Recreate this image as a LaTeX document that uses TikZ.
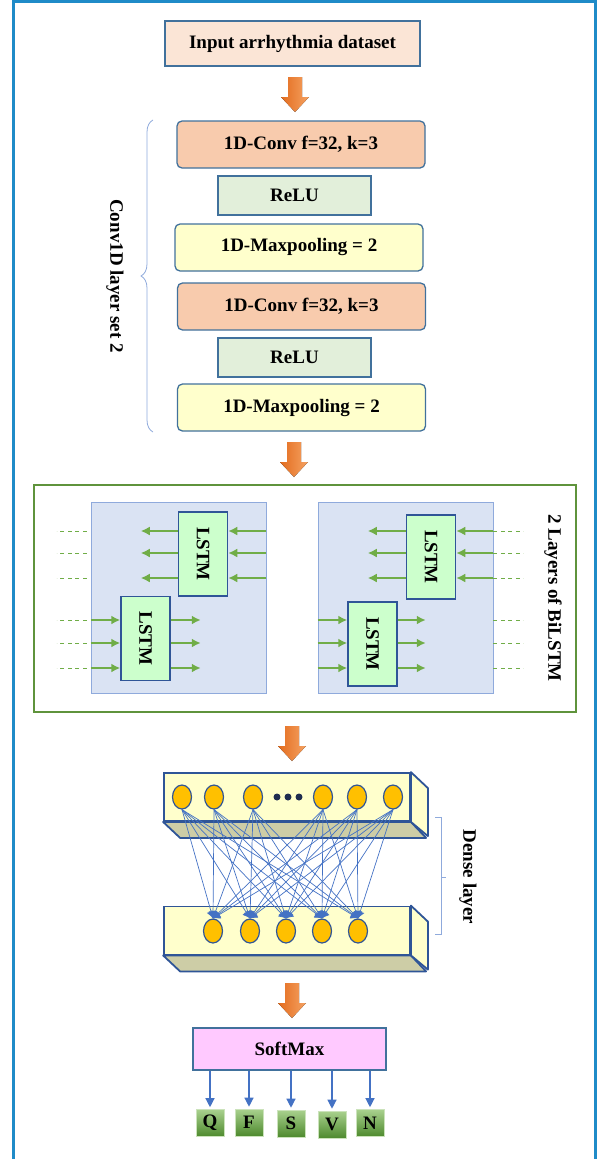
\documentclass[tikz,border=0pt]{standalone}
\usepackage{fontspec}
\setmainfont{Liberation Serif}
\usetikzlibrary{positioning,arrows.meta,shapes.geometric,decorations.pathreplacing}

\definecolor{frameblue}{HTML}{1F8BC8}
\definecolor{edgeblue}{HTML}{41719C}
\definecolor{celledge}{HTML}{2F5597}
\definecolor{inputfill}{HTML}{FBE5D6}
\definecolor{convfill}{HTML}{F8CBAD}
\definecolor{relufill}{HTML}{E2EFDA}
\definecolor{poolfill}{HTML}{FFFFCC}
\definecolor{lstmgreen}{HTML}{70AD47}
\definecolor{panelfill}{HTML}{DAE3F3}
\definecolor{paneledge}{HTML}{8FAADC}
\definecolor{cellfill}{HTML}{CCFFCC}
\definecolor{neuronfill}{HTML}{FFC000}
\definecolor{slabside}{HTML}{CDCDA6}
\definecolor{dotnavy}{HTML}{1F2D50}
\definecolor{wireblue}{HTML}{4472C4}
\definecolor{softfill}{HTML}{FFC9FF}
\definecolor{arrowdark}{HTML}{E36C1E}
\definecolor{arrowlight}{HTML}{F5A262}
\definecolor{outtop}{HTML}{A9D18E}
\definecolor{outbot}{HTML}{4E8A2E}

\newcommand{\figfont}{\fontsize{19pt}{22pt}\selectfont\bfseries}
% block arrow, #1 = coordinate at the top middle
\newcommand{\orangearrow}[1]{%
  \fill[shift={(#1)}, left color=arrowdark, right color=arrowlight]
    (-7,0) -- (7,0) -- (7,20) -- (14,20) -- (0,35) -- (-14,20) -- (-7,20) -- cycle;}

\tikzset{
  layerbox/.style={draw=edgeblue, line width=1.3pt, inner sep=0pt, font=\figfont},
  convbox/.style={layerbox, fill=convfill, rounded corners=5pt, minimum width=248, minimum height=47},
  relubox/.style={layerbox, fill=relufill, minimum width=153, minimum height=39},
  poolbox/.style={layerbox, fill=poolfill, rounded corners=5pt, minimum width=248, minimum height=47},
  panel/.style={draw=paneledge, line width=.8pt, fill=panelfill, minimum width=175, minimum height=191, inner sep=0pt},
  cell/.style={draw=celledge, line width=1.5pt, fill=cellfill, minimum width=49, minimum height=84, inner sep=0pt, font=\figfont},
  garrow/.style={draw=lstmgreen, line width=1.8pt, -{Latex[length=9pt,width=9pt]}},
  gdash/.style={draw=lstmgreen, line width=1pt, dash pattern=on 4pt off 3.5pt},
  slab/.style={draw=celledge, line width=1.8pt, fill=poolfill, minimum width=246, minimum height=48, inner sep=0pt},
  neuron/.style={ellipse, draw=celledge, line width=1.2pt, fill=neuronfill, minimum width=19, minimum height=24, inner sep=0pt},
  wire/.style={draw=wireblue, line width=.7pt, -{Latex[length=7pt,width=9pt]}},
  oarrow/.style={draw=wireblue, line width=1.2pt, -{Triangle[length=9pt,width=9pt]}},
  outbox/.style={draw=outtop!60!white, line width=.6pt, top color=outtop, bottom color=outbot, minimum width=28, minimum height=27, inner sep=0pt, font=\figfont},
  sidelabel/.style={font=\figfont, rotate=-90}
}

\begin{document}
\begin{tikzpicture}[x=1pt,y=-1pt]
  \useasboundingbox (0,0) rectangle (599,1159);
  \draw[frameblue, line width=3pt] (13.5,1170) |- (595.5,1.5) -- (595.5,1170);

  % Conv1D part
  \node[layerbox, fill=inputfill, minimum width=255, minimum height=45] (input) at (292.5,43.5) {Input arrhythmia dataset};
  \node[convbox] (conv1) at (301,144.5) {1D-Conv f=32, k=3};
  \node[relubox] (relu1) at (294.5,195.5) {ReLU};
  \node[poolbox] (pool1) at (299,247.5) {1D-Maxpooling = 2};
  \node[convbox] (conv2) at (301.5,306.5) {1D-Conv f=32, k=3};
  \node[relubox] (relu2) at (294.5,357.5) {ReLU};
  \node[poolbox] (pool2) at (301.5,407.5) {1D-Maxpooling = 2};
  \coordinate (bracetop) at (153,120);
  \coordinate (bracebot) at (153,432);
  \draw[paneledge, line width=.8pt, decorate, decoration={brace, amplitude=12pt}] (bracebot) -- (bracetop);
  \node[sidelabel] (convlabel) at (115,276) {Conv1D layer set 2};

  \coordinate (down1) at (295,77);
  \coordinate (down2) at (294,442);
  \coordinate (down3) at (292,726);
  \coordinate (down4) at (292,983);
  \foreach \a in {down1,down2,down3,down4}
    \orangearrow{\a};

  % BiLSTM part
  \node[draw=lstmgreen!85!black, line width=2pt, minimum width=542, minimum height=227, inner sep=0pt] (bilstm) at (305,598.5) {};
  \node[panel] (fwd) at (178.5,598) {};
  \node[panel] (bwd) at (405.5,598) {};
  \node[cell] (cellA) at (203,554) {\rotatebox{-90}{LSTM}};
  \node[cell] (cellB) at (145.5,638.5) {\rotatebox{-90}{LSTM}};
  \node[cell] (cellC) at (431,557) {\rotatebox{-90}{LSTM}};
  \node[cell] (cellD) at (372.5,644) {\rotatebox{-90}{LSTM}};
  \foreach \yy in {531,553,578}
  {
    \draw[gdash] ([xshift=-4pt]fwd.west |- 0,\yy) -- ++(-30,0);
    \draw[garrow] (fwd.east |- 0,\yy) -- (cellA.east |- 0,\yy);
    \draw[garrow] (cellA.west |- 0,\yy) -- ++(-37,0);
    \draw[gdash] (bwd.east |- 0,\yy) -- ++(30,0);
    \draw[garrow] (bwd.east |- 0,\yy) -- (cellC.east |- 0,\yy);
    \draw[garrow] (cellC.west |- 0,\yy) -- ++(-38,0);
  }
  \foreach \yy in {620,643,668}
  {
    \draw[gdash] ([xshift=-4pt]fwd.west |- 0,\yy) -- ++(-30,0);
    \draw[garrow] (fwd.west |- 0,\yy) -- (cellB.west |- 0,\yy);
    \draw[garrow] (cellB.east |- 0,\yy) -- ++(30,0);
    \draw[gdash] (bwd.east |- 0,\yy) -- ++(30,0);
    \draw[garrow] (bwd.west |- 0,\yy) -- (cellD.west |- 0,\yy);
    \draw[garrow] (cellD.east |- 0,\yy) -- ++(28,0);
  }
  \node[sidelabel] (lstmlabel) at (553,598) {2 Layers of BiLSTM};

  % Dense part
  \foreach \s/\yc in {upper/797,lower/930.5}
  {
    \node[slab] (\s) at (287,\yc) {};
    \draw[celledge, line width=1.8pt, line join=round, fill=slabside]
      (\s.south west) -- ++(17,16) -- ++(246,0) -- (\s.south east) -- cycle;
    \draw[celledge, line width=1.8pt, line join=round, fill=poolfill]
      (\s.north east) -- ++(17,16) -- ++(0,48) -- (\s.south east) -- cycle;
  }
  \foreach \n/\xx in {1/182,2/214,3/253,4/323,5/357,6/393}
    \node[neuron] (u\n) at (\xx,797) {};
  \foreach \xx in {277,288,299}
    \fill[dotnavy] (\xx,797) circle (3.5);
  \foreach \n/\xx in {1/213,2/250,3/286,4/322,5/358}
    \node[neuron] (d\n) at (\xx,931) {};
  \foreach \i in {1,...,6}
    \foreach \j in {1,...,5}
      \draw[wire] (u\i.south) -- (d\j.north);
  \draw[paneledge, line width=.8pt] (435,817) -- (441,817) -- (441,934) -- (435,934)
    (441,877) -- (446,877);
  \node[sidelabel] (denselabel) at (468,877) {Dense layer};

  % output part
  \node[layerbox, fill=softfill, minimum width=193, minimum height=42] (softmax) at (289.5,1049) {SoftMax};
  \foreach \c/\xx/\yy in {Q/210/1123,F/249/1122.5,S/291/1123.5,V/332/1124.5,N/370/1123}
  {
    \node[outbox] (o\c) at (\xx,\yy) {\c};
    \draw[oarrow] (softmax.south -| o\c.north) -- ([yshift=2pt]o\c.north);
  }
\end{tikzpicture}
\end{document}
